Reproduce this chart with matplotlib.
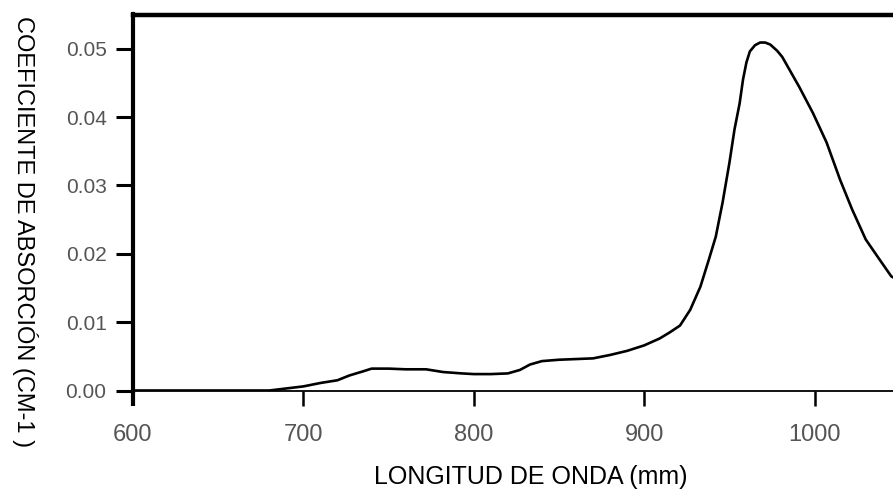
import numpy as np
import matplotlib
matplotlib.use("Agg")
import matplotlib.pyplot as plt

# longitud de onda (nm) y coeficiente de absorcion
longitud = [600, 650, 680, 690, 700, 710, 720, 727, 735, 740, 750, 760, 772, 782,
            793, 800, 810, 820, 827, 833, 840, 850, 860, 870, 880, 890, 900, 909,
            915, 921, 927, 933, 938, 942, 946, 950, 953, 956, 958, 960, 962, 965,
            968, 971, 974, 978, 981, 986, 991, 999, 1007, 1015, 1022, 1030, 1038,
            1045, 1050]
absorcion = [0.0, 0.0, 0.0, 0.0003, 0.0006, 0.0011, 0.0015, 0.0022, 0.0028, 0.0032,
             0.0032, 0.0031, 0.0031, 0.0027, 0.0025, 0.0024, 0.0024, 0.0025, 0.0030,
             0.0038, 0.0043, 0.0045, 0.0046, 0.0047, 0.0052, 0.0058, 0.0066, 0.0076,
             0.0085, 0.0095, 0.0118, 0.0152, 0.0192, 0.0225, 0.0275, 0.0333, 0.0382,
             0.0420, 0.0455, 0.0480, 0.0496, 0.0505, 0.0509, 0.0509, 0.0506, 0.0497,
             0.0488, 0.0466, 0.0444, 0.0406, 0.0363, 0.0308, 0.0265, 0.0221, 0.0192,
             0.0167, 0.0160]

xticks = [600, 700, 800, 900, 1000]
yticks = [0.00, 0.01, 0.02, 0.03, 0.04, 0.05]

plt.rcParams['font.family'] = ['Liberation Sans', 'DejaVu Sans']

W, H = 893, 493
fig = plt.figure(figsize=(W / 100, H / 100), dpi=100)
ax = fig.add_axes([133 / W, 1 - 390.5 / H, 852 / W, 376 / H])

ax.plot(longitud, absorcion, color='black', linewidth=1.9)

ax.set_xlim(600, 1100)
ax.set_ylim(0, 0.055)

ax.spines['left'].set_linewidth(3.0)
ax.spines['top'].set_linewidth(3.2)
ax.spines['bottom'].set_linewidth(1.3)
ax.spines['right'].set_visible(False)

ax.set_xticks(xticks)
ax.set_xticklabels([str(v) for v in xticks])
ax.set_yticks(yticks)
ax.set_yticklabels(['%.2f' % v for v in yticks])

ax.tick_params(axis='y', direction='out', length=12, width=2.2, pad=7,
               labelsize=15, labelcolor='#555555')
ax.tick_params(axis='x', direction='out', length=11, width=1.8, pad=13,
               labelsize=17, labelcolor='#555555')
ax.xaxis.get_major_ticks()[0].tick1line.set_markeredgewidth(3.0)

fig.text(531 / W, 1 - 477 / H, 'LONGITUD DE ONDA (mm)', fontsize=18,
         ha='center', va='center', color='black')
fig.text(25 / W, 1 - 232 / H, 'COEFICIENTE DE ABSORCIÓN (CM-1 )', fontsize=17,
         rotation=-90, ha='center', va='center', color='black')

fig.savefig('out.png', dpi=100)
